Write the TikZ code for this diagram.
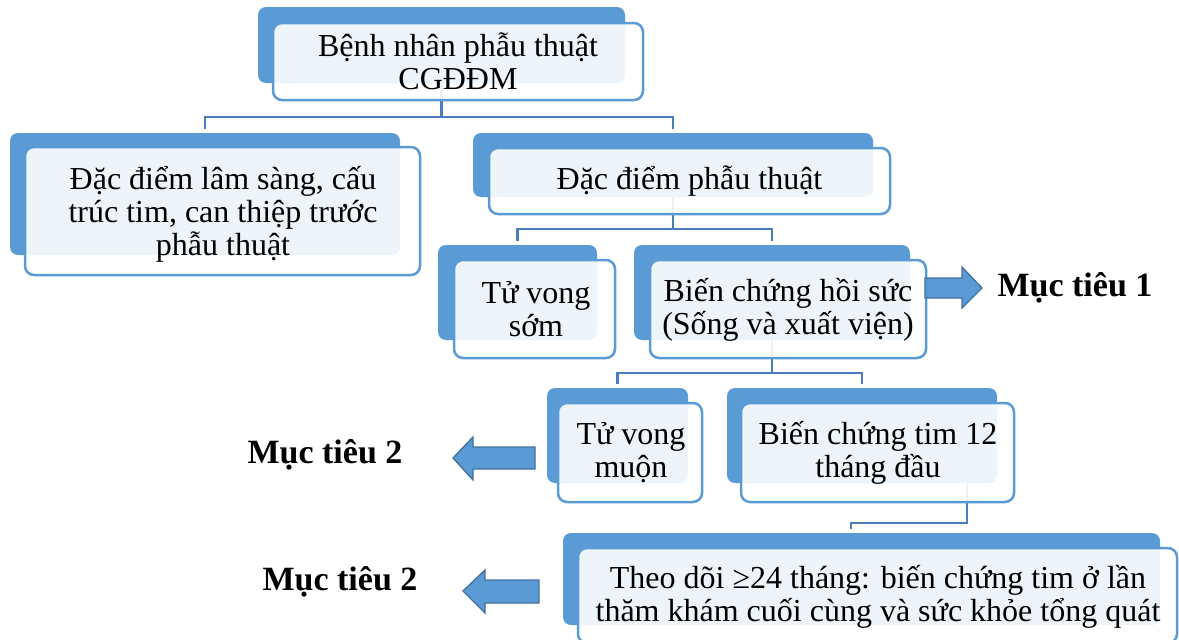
\documentclass[tikz,border=0pt]{standalone}
\usepackage{fontspec}
\setmainfont{Liberation Serif}
\usetikzlibrary{fit}
\definecolor{bblue}{RGB}{91,155,213}
\definecolor{cblue}{RGB}{74,126,187}
\definecolor{ablue}{RGB}{65,113,156}
\tikzset{
  backbox/.style={fill=bblue, draw=none, rounded corners=8pt, inner sep=0pt},
  frontbox/.style={draw=bblue, line width=2.5pt, fill=white, fill opacity=0.9, rounded corners=9pt, inner sep=0pt},
  txt/.style={align=center, inner sep=0pt, font=\fontsize{32}{33}\selectfont},
  goal/.style={inner sep=0pt, font=\fontsize{34}{36}\selectfont\bfseries},
  conn/.style={draw=cblue, line width=2.5pt, shorten >=4pt},
  blockarrow/.style={fill=bblue, draw=ablue, line width=1.3pt, line join=miter}
}
\begin{document}
\begin{tikzpicture}[x=1pt,y=-1pt]
\useasboundingbox (0,0) rectangle (1179,640);
\clip (0,0) rectangle (1179,640);
% back boxes
\node[backbox, fit={(258,7) (625,83)}] (rb) {};
\node[backbox, fit={(10,133) (400,255)}] (ab) {};
\node[backbox, fit={(473,133) (873,197)}] (bb) {};
\node[backbox, fit={(438,245) (597,340)}] (cb) {};
\node[backbox, fit={(634,245) (910,340)}] (db) {};
\node[backbox, fit={(547,388) (688,483)}] (eb) {};
\node[backbox, fit={(727,388) (997,483)}] (fb) {};
\node[backbox, fit={(563,533) (1160,625)}] (gb) {};
% connectors
\coordinate (j1) at (rb.south |- 0,117);
\draw[conn] (rb.south) -- (j1) -| (ab.north);
\draw[conn] (j1) -| (bb.north);
\coordinate (j2) at (bb.south |- 0,229);
\draw[conn] (bb.south) -- (j2) -| (cb.north);
\draw[conn] (j2) -| (db.north);
\coordinate (j3) at (db.south |- 0,373);
\draw[conn] (db.south) -- (j3) -| (eb.north);
\draw[conn] (j3) -| (fb.north);
\coordinate (k1) at (967,483);
\coordinate (k2) at (967,523);
\coordinate (k3) at (851,533);
\draw[conn] (k1) -- (k2) -| (k3);
% front boxes
\node[frontbox, fit={(273,23) (643,100)}] (rf) {};
\node[frontbox, fit={(25,147) (420,275)}] (af) {};
\node[frontbox, fit={(489,148) (890,214)}] (bf) {};
\node[frontbox, fit={(454,260) (615,358)}] (cf) {};
\node[frontbox, fit={(650,260) (926,358)}] (df) {};
\node[frontbox, fit={(558,403) (702,502)}] (ef) {};
\node[frontbox, fit={(741,403) (1014,502)}] (ff) {};
\node[frontbox, fit={(578,548) (1177,643)}] (gf) {};
% texts
\node[txt] (rt) at (458,61) {Bệnh nhân phẫu thuật\\CGĐĐM};
\node[txt] (at) at (223,214) {Đặc điểm lâm sàng, cấu\\trúc tim, can thiệp trước\\phẫu thuật};
\node[txt] (bt) at (bf.center) {Đặc điểm phẫu thuật};
\node[txt] (ct) at (536,309) {Tử vong\\sớm};
\node[txt] (dt) at (788,310) {Biến chứng hồi sức\\(Sống và xuất viện)};
\node[txt] (et) at (631,453) {Tử vong\\muộn};
\node[txt] (ft) at (878,453) {Biến chứng tim 12\\tháng đầu};
\node[txt] (gt) at (878,597) {Theo dõi ≥24 tháng: biến chứng tim ở lần\\thăm khám cuối cùng và sức khỏe tổng quát};
% block arrows
\draw[blockarrow] (925,278) -- (962,278) -- (962,267) -- (982,288) -- (962,308) -- (962,298) -- (925,298) -- cycle;
\draw[blockarrow] (535,447) -- (473,447) -- (473,437) -- (453,458) -- (473,480) -- (473,469) -- (535,469) -- cycle;
\draw[blockarrow] (539,580) -- (485,580) -- (485,570) -- (463,591) -- (485,613) -- (485,603) -- (539,603) -- cycle;
% goals
\node[goal] (g1) at (1075,288) {Mục tiêu 1};
\node[goal] (g2) at (325,455) {Mục tiêu 2};
\node[goal] (g3) at (340,582) {Mục tiêu 2};
\end{tikzpicture}
\end{document}
